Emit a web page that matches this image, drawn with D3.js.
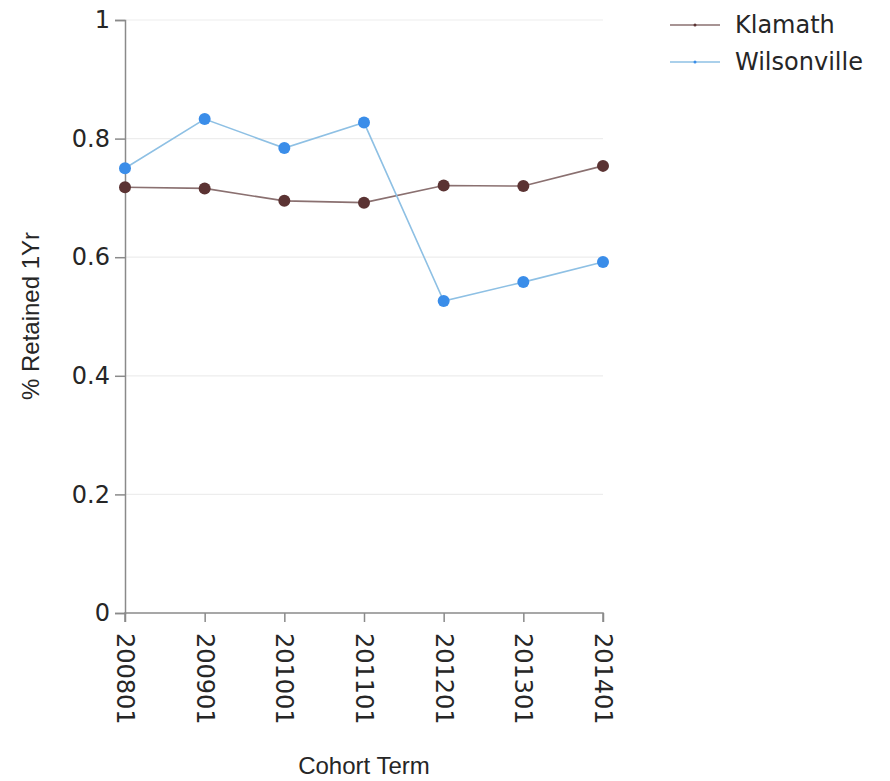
<!DOCTYPE html>
<html>
<head>
<meta charset="utf-8">
<script src="https://cdn.jsdelivr.net/npm/d3@7"></script>
<style>
html,body{margin:0;padding:0;background:#fff;}
svg{display:block;}
</style>
</head>
<body>
<svg id="chart" width="890" height="781"></svg>
<script>
const categories = ["200801","200901","201001","201101","201201","201301","201401"];
const klamath = [0.718, 0.716, 0.695, 0.692, 0.721, 0.720, 0.754];
const wilsonville = [0.750, 0.833, 0.784, 0.827, 0.526, 0.558, 0.592];
const yTicks = [0, 0.2, 0.4, 0.6, 0.8, 1];
const seriesNames = ["Klamath", "Wilsonville"];

(function () {
const series = [
  {name: seriesNames[0], values: klamath, line: "#8a7070", dot: "#5b3333"},
  {name: seriesNames[1], values: wilsonville, line: "#8ec0e4", dot: "#3a8de9"}
];

const svg = d3.select("#chart");
const mLeft = 125, mRight = 603, mTop = 20, mBottom = 613;
const tickFont = "DejaVu Sans, Verdana, sans-serif";
const titleFont = "Liberation Sans, Arial, sans-serif";
const textColor = "#262626";

const x = d3.scalePoint().domain(categories).range([mLeft, mRight]);
const y = d3.scaleLinear().domain([0, 1]).range([mBottom, mTop]);

// gridlines
svg.append("g").selectAll("line").data(yTicks.filter(d => d > 0)).join("line")
  .attr("x1", mLeft).attr("x2", mRight)
  .attr("y1", d => y(d)).attr("y2", d => y(d))
  .attr("stroke", "#ededed").attr("stroke-width", 1.2);

// y axis
const yAxis = svg.append("g").attr("transform", `translate(${mLeft},0)`)
  .call(d3.axisLeft(y).tickValues(yTicks).tickFormat(d => d === 0 || d === 1 ? String(d) : d3.format(".1f")(d)).tickSize(10).tickPadding(5));
yAxis.select(".domain").attr("stroke", "#8a8a8a").attr("stroke-width", 1.5);
yAxis.selectAll(".tick line").attr("stroke", "#8a8a8a").attr("stroke-width", 1.5);
yAxis.selectAll(".tick text").attr("font-family", tickFont).attr("font-size", 24).attr("fill", textColor);

// x axis
const xAxis = svg.append("g").attr("transform", `translate(0,${mBottom})`)
  .call(d3.axisBottom(x).tickSize(9).tickPadding(0));
xAxis.select(".domain").attr("stroke", "#8a8a8a").attr("stroke-width", 1.5).attr("d", `M${mLeft},9V0H${mRight}V9`);
xAxis.selectAll(".tick line").attr("stroke", "#8a8a8a").attr("stroke-width", 1.5);
xAxis.selectAll(".tick text")
  .attr("font-family", tickFont).attr("font-size", 24).attr("fill", textColor)
  .attr("transform", "rotate(90)")
  .attr("text-anchor", "start")
  .attr("dy", "0.35em")
  .attr("x", 20).attr("y", 0);

// axis titles
svg.append("text").attr("x", 364).attr("y", 774).attr("text-anchor", "middle")
  .attr("font-family", titleFont).attr("font-size", 24).attr("fill", textColor)
  .text("Cohort Term");
svg.append("text").attr("transform", `translate(39,316) rotate(-90)`).attr("text-anchor", "middle")
  .attr("font-family", titleFont).attr("font-size", 24).attr("fill", textColor)
  .text("% Retained 1Yr");

// lines and dots
const line = d3.line().x((d, i) => x(categories[i])).y(d => y(d));
series.forEach(s => {
  svg.append("path").datum(s.values).attr("d", line)
    .attr("fill", "none").attr("stroke", s.line).attr("stroke-width", 1.6);
  svg.append("g").selectAll("circle").data(s.values).join("circle")
    .attr("cx", (d, i) => x(categories[i])).attr("cy", d => y(d)).attr("r", 6)
    .attr("fill", s.dot);
});

// legend
const legend = svg.append("g");
series.forEach((s, i) => {
  const ly = 25 + i * 37;
  legend.append("line").attr("x1", 670).attr("x2", 720).attr("y1", ly).attr("y2", ly)
    .attr("stroke", s.line).attr("stroke-width", 1.6);
  legend.append("circle").attr("cx", 695).attr("cy", ly).attr("r", 1.5).attr("fill", s.dot);
  legend.append("text").attr("x", 735).attr("y", ly).attr("dy", "0.35em")
    .attr("font-family", tickFont).attr("font-size", 24).attr("fill", textColor)
    .text(s.name);
});
})();
</script>
</body>
</html>
